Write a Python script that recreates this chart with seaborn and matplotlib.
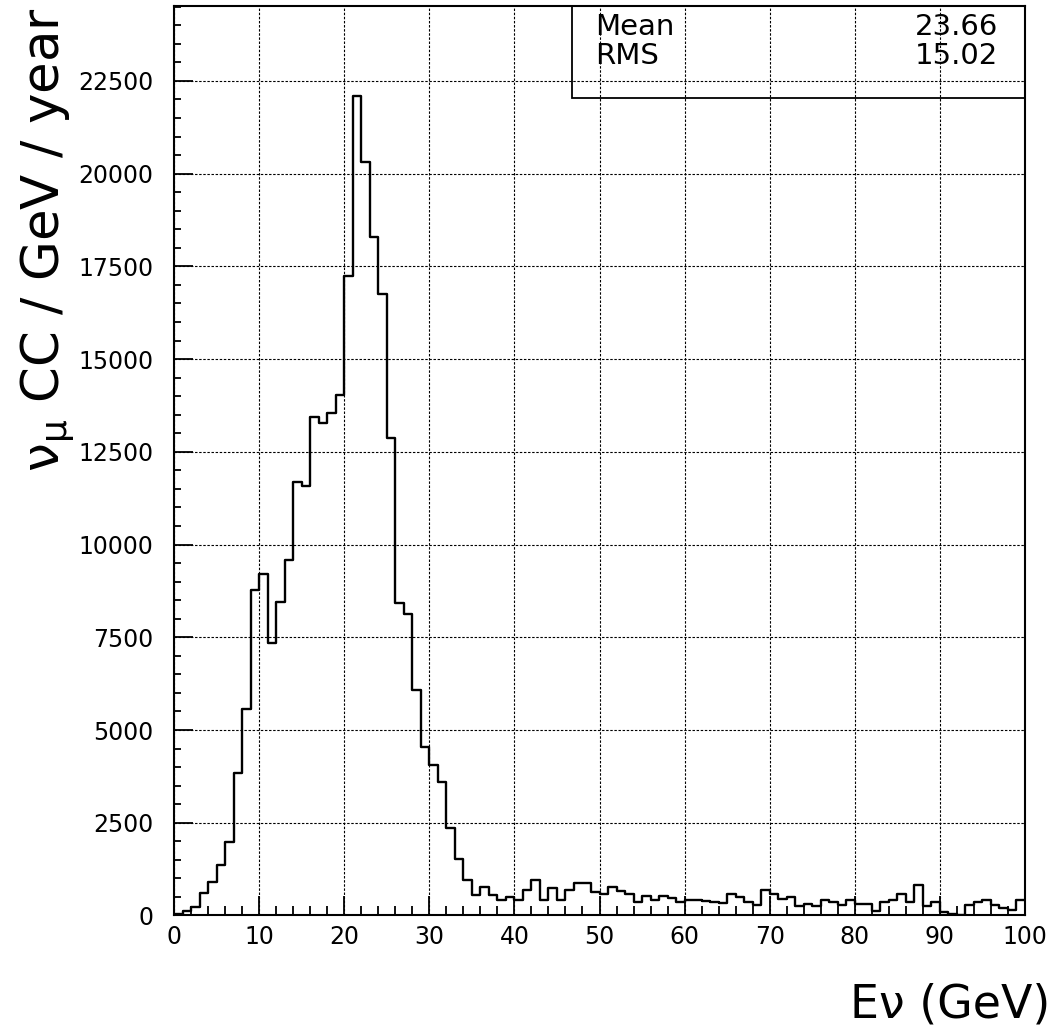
import numpy as np
import pandas as pd
import matplotlib
matplotlib.use("Agg")
import matplotlib.pyplot as plt
from matplotlib.patches import Rectangle
from matplotlib.ticker import MultipleLocator
import seaborn as sns

# ---------------- data ----------------
bin_edges = list(range(0, 101))
counts = [
    30, 115, 225, 600, 910, 1360, 1990, 3830, 5560, 8770,
    9210, 7350, 8450, 9590, 11700, 11590, 13440, 13270, 13540, 14030,
    17230, 22100, 20320, 18300, 16750, 12880, 8420, 8140, 6080, 4530,
    4060, 3590, 2350, 1510, 970, 545, 770, 555, 415, 495,
    430, 695, 958, 410, 748, 410, 684, 866, 866, 629,
    593, 757, 657, 593, 365, 538, 410, 538, 474, 356,
    429, 410, 383, 356, 330, 593, 502, 365, 274, 684,
    593, 456, 502, 246, 319, 246, 410, 365, 274, 410,
    319, 319, 109, 365, 429, 593, 365, 812, 246, 365,
    91, 46, 20, 274, 365, 410, 274, 200, 137, 429,
]
x_ticks = [0, 10, 20, 30, 40, 50, 60, 70, 80, 90, 100]
y_ticks = [0, 2500, 5000, 7500, 10000, 12500, 15000, 17500, 20000, 22500]
stat_names = ["Mean", "RMS"]
stat_values = ["23.66", "15.02"]
x_label = "E\u03bd (GeV)"
y_label = r"$\nu_\mu$ CC / GeV / year"

# ---------------- figure ----------------
sns.set_theme(style="white")
plt.rcParams["font.family"] = ["DejaVu Sans"]
plt.rcParams["mathtext.default"] = "regular"

fig = plt.figure(figsize=(10.54, 10.27), dpi=100)
ax = fig.add_axes([0.16509, 0.10857, 0.80740, 0.88559])

df = pd.DataFrame({"E": [e + 0.5 for e in bin_edges[:-1]], "w": counts})
sns.histplot(data=df, x="E", weights="w", bins=bin_edges, element="step",
             fill=False, color="black", linewidth=1.7, ax=ax)

ax.set_xlim(0, 100)
ax.set_ylim(0, 24520)
ax.set_xticks(x_ticks)
ax.set_yticks(y_ticks)
ax.xaxis.set_minor_locator(MultipleLocator(2))
ax.yaxis.set_minor_locator(MultipleLocator(500))
ax.set_xlabel("")
ax.set_ylabel("")

ax.set_axisbelow(True)
ax.grid(True, which="major", color="black", linestyle=(0, (2.2, 1.5)), linewidth=0.8)
ax.grid(False, which="minor")

ax.tick_params(axis="both", which="both", direction="in", top=False, right=False,
               bottom=True, left=True, colors="black", width=1.3, labelsize=17)
ax.tick_params(axis="both", which="major", length=14)
ax.tick_params(axis="x", which="minor", length=6.5)
ax.tick_params(axis="y", which="minor", length=5)
ax.tick_params(axis="x", which="major", pad=7)
ax.tick_params(axis="y", which="major", pad=15)

for s in ax.spines.values():
    s.set_visible(True)
    s.set_color("black")
    s.set_linewidth(1.5)

# stats box
box_x0 = (572 - 174) / 851
box_y0 = (915.5 - 98) / 909.5
ax.add_patch(Rectangle((box_x0, box_y0), 1 - box_x0, 1 - box_y0, transform=ax.transAxes,
                       fill=False, edgecolor="black", linewidth=1.3, clip_on=False, zorder=5))
stat_y = [(915.5 - 27) / 909.5, (915.5 - 56) / 909.5]
for name, val, yy in zip(stat_names, stat_values, stat_y):
    ax.text((595 - 174) / 851, yy, name, transform=ax.transAxes, ha="left", va="center",
            fontsize=21, color="black", zorder=6)
    ax.text((998 - 174) / 851, yy, val, transform=ax.transAxes, ha="right", va="center",
            fontsize=21, color="black", zorder=6)

# axis titles
fig.text(1050 / 1054, 1 - 1017 / 1027, x_label, ha="right", va="baseline",
         fontsize=33, color="black")
fig.text(47 / 1054, 1 - 240 / 1027, y_label, ha="center", va="center",
         rotation=90, fontsize=37, color="black")

fig.savefig("out.png", dpi=100)
